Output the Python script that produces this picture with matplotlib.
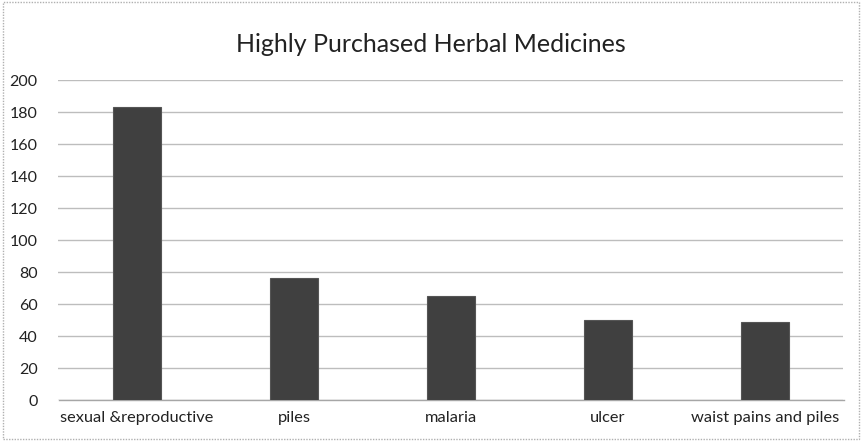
import matplotlib
matplotlib.use("Agg")
import matplotlib.pyplot as plt
from matplotlib.patches import Rectangle

categories = ["sexual &reproductive", "piles", "malaria", "ulcer", "waist pains and piles"]
purchases = [183, 76, 65, 50, 49]
y_ticks = [0, 20, 40, 60, 80, 100, 120, 140, 160, 180, 200]

plt.rcParams['font.family'] = ['Lato', 'DejaVu Sans']

W, H = 862, 441
fig = plt.figure(figsize=(W / 100, H / 100), dpi=100)
ax = fig.add_axes([58.5 / W, (H - 400) / H, 785 / W, 320 / H])

x = list(range(len(categories)))
ax.bar(x, purchases, width=0.31, color="#404040", edgecolor="#555555", linewidth=0.8, zorder=3)

ax.set_xlim(-0.5, len(categories) - 0.5)
ax.set_ylim(0, 200)
ax.set_yticks(y_ticks)
ax.set_yticklabels([str(v) for v in y_ticks], fontsize=11.5, color="#222222")
ax.set_xticks(x)
ax.set_xticklabels(categories, fontsize=11.8, color="#222222")
ax.tick_params(axis="both", length=0, pad=8)
ax.tick_params(axis="y", pad=15)

ax.grid(axis="y", color="#bdbdbd", linewidth=1.0, zorder=0)
for side in ["top", "right", "left"]:
    ax.spines[side].set_visible(False)
ax.spines["bottom"].set_color("#a6a6a6")
ax.spines["bottom"].set_linewidth(1.0)

fig.text(431 / W, 1 - 45 / H, "Highly Purchased Herbal Medicines", ha="center", va="center",
         fontsize=18, color="#222222")

# outer chart frame
fig.patches.append(Rectangle((0.004, 0.004), 0.992, 0.992, transform=fig.transFigure,
                             fill=False, edgecolor="#b0b0b0", linewidth=1.0, linestyle=(0, (1, 1))))

fig.savefig("out.png", dpi=100)
